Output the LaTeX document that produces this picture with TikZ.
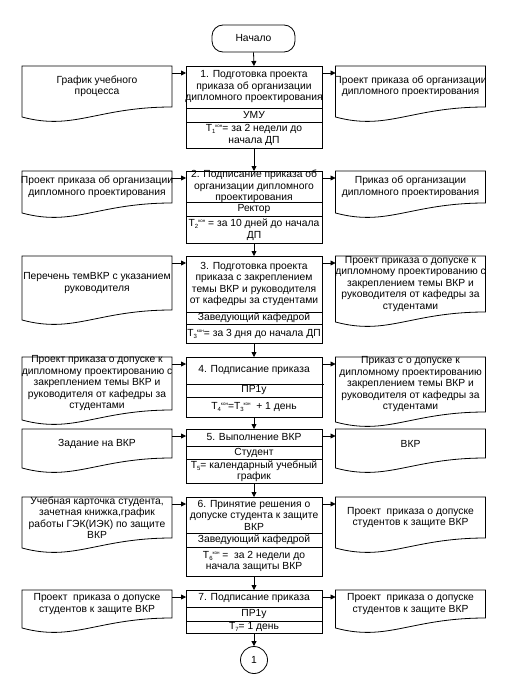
\documentclass[tikz,border=0pt]{standalone}
\usepackage{fontspec}
\setmainfont{Liberation Sans}
\usetikzlibrary{arrows.meta,calc}
\newcommand\Tkon[1]{T\raisebox{-2pt}{\fontsize{6}{6}\selectfont #1}\raisebox{4pt}{\fontsize{4.5}{5}\selectfont кон}}
\newcommand\Tsub[1]{T\raisebox{-2pt}{\fontsize{6}{6}\selectfont #1}}
\tikzset{
 line/.style={line width=0.8pt},
 arr/.style={line width=0.8pt,-{Triangle[length=5pt,width=5pt]}},
 procbox/.style={draw,line width=0.8pt,minimum width=136pt,inner sep=0pt,outer sep=0pt},
 docarea/.style={inner sep=0pt,outer sep=0pt,minimum width=150pt},
 txt/.style={align=center,inner sep=0pt,font=\fontsize{10.3}{11.5}\selectfont},
 term/.style={draw,line width=0.8pt,rounded corners=11pt,minimum width=83pt,minimum height=27pt,inner sep=0pt,font=\fontsize{10.3}{11.5}\selectfont},
 conn/.style={draw,circle,line width=0.8pt,minimum size=27pt,inner sep=0pt,font=\fontsize{10.3}{11.5}\selectfont}
}
% name, top, d1, d2, bottom, t1, t2, t3
\newcommand\procstep[8]{%
 \pgfmathsetmacro\hh{#5-#2}%
 \pgfmathsetmacro\ya{-(#2+#3)/2}%
 \pgfmathsetmacro\yb{-(#3+#4)/2}%
 \pgfmathsetmacro\yc{-(#4+#5)/2}%
 \node[procbox,minimum height=\hh pt,anchor=north] (#1) at (254,-#2) {};
 \draw[line] (#1.west |- 0,-#3) -- (#1.east |- 0,-#3);
 \draw[line] (#1.west |- 0,-#4) -- (#1.east |- 0,-#4);
 \node[txt] (#1a) at (254,\ya) {#6};
 \node[txt] (#1b) at (254,\yb) {#7};
 \node[txt] (#1c) at (254,\yc) {#8};
}
% name, cx, top, bottomleft, text
\newcommand\docbox[5]{%
 \pgfmathsetmacro\hh{#4-#3}%
 \pgfmathsetmacro\yt{-(#3+#4-10)/2}%
 \node[docarea,minimum height=\hh pt,anchor=north] (#1) at (#2,-#3) {};
 \draw[line] (#1.south west) -- (#1.north west) -- (#1.north east) -- ([yshift=10pt]#1.south east)
   .. controls ([xshift=-75pt,yshift=10pt]#1.south east) and ([xshift=52pt,yshift=-14pt]#1.south west) .. (#1.south west) -- cycle;
 \node[txt] (#1t) at (#2,\yt) {#5};
}
\begin{document}
\begin{tikzpicture}[x=1pt,y=1pt]
\useasboundingbox (0,0) rectangle (504,-693);
\node[term] (start) at (253.5,-38.5) {Начало};

\procstep{b1}{66}{108}{122}{148}{1. Подготовка проекта\\приказа об организации\\дипломного проектирования}{УМУ}{\Tkon{1}= за 2 недели до\\начала ДП}
\procstep{b2}{171}{202}{216}{243}{2. Подписание приказа об\\организации дипломного\\проектирования}{Ректор}{\Tkon{2} = за 10 дней до начала\\ДП}
\procstep{b3}{256}{312}{324}{343}{3. Подготовка проекта\\приказа с закреплением\\темы ВКР и руководителя\\от кафедры за студентами}{Заведующий кафедрой}{\Tkon{3}= за 3 дня до начала ДП}
\procstep{b4}{357}{384}{397}{417}{4. Подписание приказа}{ПР1у}{\Tkon{4}=\Tkon{3}\ \ + 1 день}
\draw[line] (b4.east |- 0,-384) -- ++(2,0);
\procstep{b5}{429}{446}{459}{483}{5. Выполнение ВКР}{Студент}{\Tsub{5}= календарный учебный\\график}
\procstep{b6}{497}{533}{547}{576}{6. Принятие решения о\\допуске студента к защите\\ВКР}{Заведующий кафедрой}{\Tkon{6} =\ \ за 2 недели до\\начала защиты ВКР}
\procstep{b7}{590}{607}{621}{633}{7. Подписание приказа}{ПР1у}{\Tsub{7}= 1 день}

\node[conn] (c1) at (254,-660) {1};

\docbox{l1}{97}{66}{117}{График учебного\\процесса}
\docbox{r1}{410.5}{66}{117}{Проект приказа об организации\\дипломного проектирования}
\docbox{l2}{97}{171}{213}{Проект приказа об организации\\дипломного проектирования}
\docbox{r2}{410.5}{171}{213}{Приказ об организации\\дипломного проектирования}
\docbox{l3}{97}{256}{320}{Перечень темВКР с указанием\\руководителя}
\docbox{r3}{410.5}{256}{322}{Проект приказа о допуске к\\дипломному проектированию с\\закреплением темы ВКР и\\руководителя от кафедры за\\студентами}
\docbox{l4}{97}{357}{420}{Проект приказа о допуске к\\дипломному проектированию с\\закреплением темы ВКР и\\руководителя от кафедры за\\студентами}
\docbox{r4}{410.5}{357}{422}{Приказ с о допуске к\\дипломному проектированию\\закреплением темы ВКР и\\руководителя от кафедры за\\студентами}
\docbox{l5}{97}{429}{468}{Задание на ВКР}
\docbox{r5}{410.5}{429}{468}{ВКР}
\docbox{l6}{97}{497}{548}{Учебная карточка студента,\\зачетная книжка,график\\работы ГЭК(ИЭК) по защите\\ВКР}
\docbox{r6}{410.5}{497}{548}{Проект\ \ приказа о допуске\\студентов к защите ВКР}
\docbox{l7}{97}{590}{628}{Проект\ \ приказа о допуске\\студентов к защите ВКР}
\docbox{r7}{410.5}{590}{628}{Проект\ \ приказа о допуске\\студентов к защите ВКР}

\draw[arr] (start.south) -- (b1.north);
\draw[arr] (b1.south) -- (b2.north);
\draw[arr] (b2.south) -- (b3.north);
\draw[arr] (b3.south) -- (b4.north);
\draw[arr] (b4.south) -- (b5.north);
\draw[arr] (b5.south) -- (b6.north);
\draw[arr] (b6.south) -- (b7.north);
\draw[arr] (b7.south) -- (c1.north);
\foreach \i in {1,...,7}{
 \draw[arr] ([yshift=-7pt]l\i.north east) -- ([yshift=-7pt]b\i.north west);
 \draw[arr] ([yshift=-7pt]b\i.north east) -- ([yshift=-7pt]r\i.north west);
}
\end{tikzpicture}
\end{document}
